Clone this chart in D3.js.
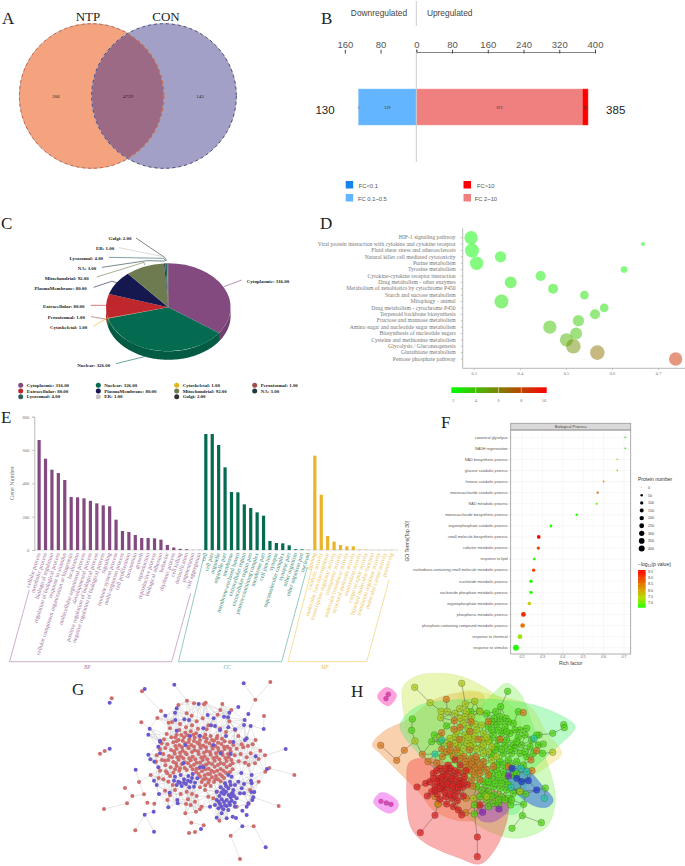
<!DOCTYPE html>
<html><head><meta charset="utf-8">
<script src="https://cdn.jsdelivr.net/npm/d3@7"></script>
<style>html,body{margin:0;padding:0;background:#fff}svg{display:block}</style>
</head><body><svg id="c" width="685" height="866"></svg>
<script>
// ---------- A
const vennSets=["NTP","CON"];
const vennCounts=[206,4729,143];
// ---------- B
const bTicks=[-160,-80,0,80,160,240,320,400];
const bDown=[{k:"FC 0.1~0.5",v:129},{k:"FC<0.1",v:1}];
const bUp=[{k:"FC 2~10",v:372},{k:"FC>10",v:13}];
const bTotals=[130,385];
// ---------- C
const locNames=["Cytoplasmic","Nuclear","Cytoskeletal","Peroxisomal","Extracellular","PlasmaMembrane","Mitochondrial","NA","Lysosomal","ER","Golgi"];
const locValues=[316,326,1,1,80,80,92,3,4,1,2];
// ---------- D
const kegNames=["HIF-1 signaling pathway","Viral protein interaction with cytokine and cytokine receptor","Fluid shear stress and atherosclerosis","Natural killer cell mediated cytotoxicity","Purine metabolism","Tyrosine metabolism","Cytokine-cytokine receptor interaction","Drug metabolism - other enzymes","Metabolism of xenobiotics by cytochrome P450","Starch and sucrose metabolism","Mitophagy - animal","Drug metabolism - cytochrome P450","Terpenoid backbone biosynthesis","Fructose and mannose metabolism","Amino sugar and nucleotide sugar metabolism","Biosynthesis of nucleotide sugars","Cysteine and methionine metabolism","Glycolysis / Gluconeogenesis","Glutathione metabolism","Pentose phosphate pathway"];
const kegRich=[.293,.666,.295,.357,.305,.625,.444,.379,.471,.539,.359,.582,.562,.526,.464,.521,.5,.515,.567,.737];
const kegCount=[50,4.5,55,36,50,12.5,28,40,28,21,55,21,28,36,50,40,50,60,60,50];
const kegP=[2.2,2.2,2.2,2.3,2.3,2.3,2.5,2.6,2.7,2.9,2.8,3,3.3,3.6,3.9,3.9,4.4,5.5,6.4,8.5];
// ---------- E
const bpNames=["cellular process","metabolic process","biological regulation","regulation of biological process","response to stimulus","cellular component organization or biogenesis","localization","multicellular organismal process","developmental process","positive regulation of biological process","negative regulation of biological process","signaling","immune system process","multi-organism process","cell proliferation","locomotion","growth","reproduction","reproductive process","biological adhesion","behavior","rhythmic process","cell killing","detoxification","pigmentation","cell aggregation"];
const bpValues=[660,548,482,462,420,318,316,310,295,280,268,262,182,114,108,90,72,72,70,62,30,15,7,5,1,1];
const ccNames=["cell","cell part","organelle","organelle part","membrane","membrane-enclosed lumen","extracellular region","extracellular region part","protein-containing complex","membrane part","cell junction","synapse","supramolecular complex","synapse part","other organism","other organism part","nucleoid"];
const ccValues=[696,696,630,496,348,346,274,252,226,206,54,42,40,28,5,4,1];
const mfNames=["binding","catalytic activity","molecular function regulator","transcription regulator activity","transporter activity","molecular transducer activity","structural molecule activity","antioxidant activity","cargo receptor activity","hijacked molecular function","translation regulator activity","molecular carrier activity","protein tag"];
const mfValues=[566,332,84,50,30,22,22,3,2,1,1,1,1];
const eTicks=[0,200,400,600,800];
// ---------- F
const fNames=["canonical glycolysis","NADH regeneration","NAD biosynthetic process","glucose catabolic process","hexose catabolic process","monosaccharide catabolic process","NAD metabolic process","monosaccharide biosynthetic process","organophosphate catabolic process","small molecule biosynthetic process","cofactor metabolic process","response to lipid","nucleobase-containing small molecule metabolic process","nucleotide metabolic process","nucleoside phosphate metabolic process","organophosphate metabolic process","phosphorus metabolic process","phosphate-containing compound metabolic process","response to chemical","response to stimulus"];
const fRich=[.706,.706,.667,.667,.6,.571,.566,.468,.342,.282,.28,.26,.257,.244,.244,.236,.207,.203,.19,.17];
const fCount=[18,18,20,20,25,35,35,45,60,130,100,70,100,100,100,120,235,220,235,400];
const fP=[7,7,7.6,7.7,8.2,8.7,7.3,7,7,9.5,9,7,9,7,7,7.8,9.2,8.6,7.5,7];
const fTicks=[.2,.3,.4,.5,.6,.7];
const fSizeLegend=[0,50,100,150,200,250,300,350,400];
const fColorLegend=[9.5,9,8.5,8,7.5,7];
// ---------- G
const gRed=[[155,145],[246,124],[120,311],[134,303],[631,96],[586,149],[612,198],[703,375],[656,468],[132,477],[201,460],[217,438],[252,433],[195,414],[237,396],[226,541],[262,458],[283,461],[322,450],[387,549],[405,546],[431,526],[394,518],[376,490],[512,557],[540,627],[581,529],[478,512],[244,217],[292,204],[303,183],[355,165],[381,152],[402,160],[432,163],[437,158],[487,162],[481,180],[473,194],[514,180],[616,365],[628,354],[615,316],[601,302],[587,270],[578,283],[564,288],[272,375],
[326,218],[336,216],[360,222],[395,197],[410,214],[428,205],[445,226],[380,190],[330,235],[358,240],[378,232],[396,226],[414,236],[440,238],[480,236],[508,214],[320,252],[350,254],[376,248],[392,244],[408,250],[436,254],[472,258],[498,246],[526,240],[312,268],[334,262],[356,270],[372,262],[388,268],[404,263],[420,270],[440,266],[462,272],[486,266],[510,276],[535,258],[305,280],[322,283],[340,277],[358,286],[376,280],[394,285],[412,278],[430,287],[448,280],[466,288],[484,282],[502,290],[520,285],[545,283],[300,298],[316,294],[333,300],[350,296],[368,302],[386,295],[404,301],[422,294],[440,303],[458,296],[476,303],[494,297],[512,305],[530,296],[550,292],[572,310],[290,316],[310,312],[327,318],[344,311],[362,319],[380,313],[398,320],[416,312],[434,320],[452,314],[470,321],[488,315],[506,322],[524,316],[542,312],[560,322],[585,340],[288,335],[306,330],[340,336],[356,329],[374,337],[392,331],[410,338],[428,330],[446,338],[464,332],[482,339],[500,333],[518,340],[536,334],[555,338],[596,327],[316,346],[332,352],[350,348],[374,354],[392,349],[410,356],[428,348],[446,356],[464,350],[482,357],[500,351],[518,358],[566,345],[300,362],[318,364],[340,368],[408,366],[426,364],[444,372],[462,366],[480,373],[498,368],[420,380],[438,386],[456,382],[474,388],[492,384],[425,396],[445,398],[462,396],[310,388],[296,384],[325,395],[338,405],[315,422],[345,420],[330,436],[362,432],[380,425],[396,432],[410,438],[384,448],[405,455],[378,462],[392,465],[425,470],[445,440],[460,445],[470,425],[435,420],[420,412],[408,485],[420,478],[566,462],[530,470],[570,420],[596,395]];
const gRedCore=[[346,262],[364,255],[382,256],[400,254],[418,258],[432,262],[452,258],[470,265],[350,274],[368,272],[386,276],[402,273],[418,282],[438,275],[456,270],[474,278],[494,274],[346,288],[366,292],[384,290],[402,290],[420,286],[438,292],[456,288],[474,294],[492,290],[510,296],[342,304],[360,308],[376,308],[396,306],[414,304],[432,308],[450,306],[468,310],[486,306],[504,312],[336,322],[352,322],[370,325],[388,325],[406,328],[424,322],[442,328],[460,324],[478,328],[496,324],[514,330],[348,340],[366,342],[384,340],[402,344],[420,338],[438,344],[456,342],[474,345],[492,342],[510,346],[360,355],[380,360],[398,358],[418,354],[436,358],[454,362],[472,362],[490,362],[510,366],[416,372],[434,376],[450,372],[468,378],[486,378],[430,388],[448,390],[466,388],[482,394],[436,406],[452,408],[325,330],[315,332],[322,370],[330,378],[345,358],[358,362]];
const gBlue=[[149,158],[254,117],[343,104],[551,100],[535,171],[565,192],[554,210],[572,228],[552,225],[611,237],[677,297],[617,592],[547,529],[423,537],[282,545],[254,494],[281,485],[227,359],[149,296],[265,254],[269,236],[316,197],[345,188],[350,175],[416,162],[508,188],[492,200],[504,202],[346,210],[373,208],[387,210],[461,205],[443,195],[465,228],[453,226],[265,314],[271,328],[283,335],[295,352],[300,275],[295,290],[300,310],[587,319],[621,357],[575,375],[573,392],[575,400],[552,402],[544,369],[583,426],[574,426],[580,442],[577,450],[552,430],[540,430],[565,460],[560,470],[547,482],[560,495],[528,504],[518,500],[500,505],[470,503],[290,405],[282,392],[297,432],[329,428],[352,450],[353,460],[325,472],[505,375],
[376,285],[370,340],[362,375],[345,380],[355,395],[372,388],[385,378],[398,372],[412,385],[392,395],[378,402],[365,408],[350,405],[402,410],[388,412],[420,352],[430,352],[482,310],[512,312],[498,258],[520,276],[555,270],[560,265],[525,238],[505,232],[480,240],[430,235],[420,258],[390,258],[350,242],[300,272],[460,285],
[470,425],[482,412],[495,400],[510,395],[525,405],[515,380],[490,420],[505,415],[520,420],[478,438],[492,432],[506,435],[522,438],[470,450],[485,448],[500,450],[515,452],[530,445],[465,465],[480,462],[495,466],[510,465],[525,470],[475,475],[490,478],[505,480],[485,490],[450,470],[545,415],[535,395],[500,468],[512,442],[518,428],[498,408],[512,405],[484,428],[498,425],[514,432],[476,455],[492,456],[508,458],[524,458],[484,470],[360,398],[372,398],[384,392],[396,384],[405,398],[342,392]];
// ---------- H
const hullYellowGreen=[[190,110],[230,78],[310,70],[380,85],[460,130],[540,200],[520,300],[420,380],[300,340],[210,260],[190,180]];
const hullOrange=[[97,285],[130,245],[200,210],[280,150],[360,128],[430,135],[400,300],[420,500],[360,512],[280,480],[240,430],[190,380],[120,310]];
const hullYellow=[[360,128],[480,140],[570,170],[620,250],[665,310],[620,350],[560,390],[480,470],[400,400],[380,250]];
const hullGreen=[[500,100],[540,130],[580,230],[640,400],[645,460],[620,530],[530,565],[440,540],[380,500],[300,420],[300,300],[400,200],[460,130]];
const hullBright=[[180,225],[230,170],[340,150],[480,150],[600,170],[700,220],[705,235],[620,320],[570,370],[530,490],[400,450],[280,350],[200,270]];
const hullRed=[[200,400],[210,335],[300,330],[400,400],[500,440],[505,490],[470,590],[420,642],[360,625],[250,575],[212,530]];
const hullBlue=[[500,355],[550,350],[610,410],[640,450],[625,470],[590,470],[540,440],[500,390]];
const hullPurple=[[410,480],[430,465],[500,460],[505,480],[460,515],[420,510]];
const hullPinkA=[[112,140],[140,112],[170,135],[145,168]];
const hullPinkB=[[100,455],[125,427],[170,450],[175,470],[150,490],[110,470]];
const hRed=[[231,411],[285,496],[241,548],[412,561],[412,620],[420,465],[262,438],[257,400],[280,370],[295,385],[310,372],[325,365],[340,378],[355,368],[270,395],[285,410],[300,400],[315,390],[330,395],[345,402],[360,392],[372,380],[275,425],[292,432],[308,418],[322,412],[338,420],[352,425],[368,412],[382,405],[300,448],[318,440],[335,445],[352,452],[370,438],[320,462],[340,470],[355,480],[365,495],[345,330],[325,345],[300,355],[360,345],[378,362],[290,362],[305,382],[320,378],[335,385],[350,388],[290,395],[308,405],[322,402],[338,408],[355,412],[280,385],[300,415],[315,428],[330,432],[345,438],[285,420],[360,402],[372,398],[332,355],[315,355],[345,362]];
const hOrange=[[122,286],[193,301],[170,331],[247,313],[264,335],[319,148],[343,212],[342,238],[393,215],[445,215],[305,248],[550,188],[415,268],[388,300],[400,345],[430,350],[460,350],[410,330],[380,350],[290,340],[307,320],[305,297],[330,285],[358,268],[590,302],[573,330],[576,362],[398,408],[378,445],[295,462],[285,440],[377,488],[395,325],[415,360],[430,335],[385,335],[405,375],[372,318],[350,300],[445,375],[420,390],[480,268],[505,350],[360,232],[390,245],[395,342],[405,352],[388,360],[420,345],[408,320],[375,335],[365,360],[395,365],[420,370],[375,380],[395,390],[440,360],[320,305],[340,320],[360,325],[330,300]];
const hOlive=[[224,112],[270,158],[365,100],[404,154],[376,162],[359,176],[303,184],[322,184],[302,203],[225,273],[638,307],[293,463],[380,185],[395,200],[420,185],[360,205],[345,260],[375,255],[395,270],[410,240],[430,250],[330,265],[355,285],[380,280],[400,285],[425,290],[445,305],[360,310],[335,310],[455,330],[470,320],[445,275],[430,310],[540,425],[400,445],[440,440],[370,220],[385,235],[405,222],[425,225],[350,245],[365,270],[385,262],[405,258],[425,270],[440,262],[345,280],[370,295],[390,288],[410,298],[430,285],[455,290],[320,280],[300,262],[375,200],[345,190]];
const hGreen=[[503,124],[217,207],[215,241],[671,224],[673,233],[638,250],[597,255],[608,310],[616,414],[551,463],[547,497],[604,518],[516,535],[403,465],[403,492],[512,465],[557,432],[538,424],[482,170],[467,185],[393,185],[418,183],[440,190],[462,205],[480,200],[498,205],[535,185],[520,220],[560,235],[445,230],[470,225],[495,230],[540,240],[320,228],[283,255],[275,275],[300,275],[460,255],[485,250],[510,250],[535,262],[555,255],[575,270],[595,285],[570,290],[545,285],[520,285],[495,285],[470,290],[490,310],[515,310],[540,310],[560,320],[480,335],[505,330],[530,335],[550,345],[555,305],[470,360],[490,365],[520,375],[530,370],[455,385],[475,390],[495,395],[440,405],[460,410],[480,415],[500,420],[520,430],[425,420],[445,425],[465,435],[485,440],[505,445],[440,450],[460,460],[475,465],[420,440],[445,470],[410,410],[430,395],[500,270],[525,295],[475,270],[580,310],[610,282],[590,255],[455,215],[480,215],[505,215],[455,240],[475,240],[500,245],[525,240],[450,270],[465,300],[485,298],[510,298],[530,275],[455,315],[470,345],[490,345],[510,345],[455,370],[475,375],[495,378],[445,395],[465,400],[485,400],[505,405],[435,435],[455,440],[475,450],[495,450],[515,450]];
const hCyan=[[543,355],[513,412],[613,445],[285,312],[560,365],[305,270],[582,265]];
const hBlue=[[516,355],[545,395],[565,392],[590,420],[530,385]];
const hPurple=[[428,487],[477,477],[506,378]];
const hMagenta=[[145,133],[138,146],[123,454],[139,459],[153,463]];

// ---------- drawing
const svg=d3.select("#c");
const SERIF="'Liberation Serif',serif", SANS="'Liberation Sans',Arial,sans-serif";
function txt(p,x,y,s,o={}){return p.append("text").attr("x",x).attr("y",y).text(s)
  .attr("font-family",o.ff||SERIF).attr("font-size",o.fs||6).attr("fill",o.fill||"#333")
  .attr("text-anchor",o.a||"start").attr("font-weight",o.w||null).attr("font-style",o.st||null);}
[["A",2,24],["B",321,24],["C",1,229],["D",320,229],["E",1,423],["F",441,428],["G",72,695],["H",351,697]]
 .forEach(d=>txt(svg,d[1],d[2],d[0],{fs:17,fill:"#222"}));

// A
(function(){
 const g=svg.append("g");
 const x=d3.scaleLinear().domain([0,1]).range([91.7,164]);
 const r=72.3,cy=96;
 const defs=svg.append("defs");
 defs.append("clipPath").attr("id","cl").append("circle").attr("cx",x(0)).attr("cy",cy).attr("r",r);
 const sets=vennSets.map((s,i)=>({s,i}));
 const fills=["#F5A27F","#A3A0C7"], strokes=["#E8501E","#3E3A8C"];
 g.selectAll("circle.f").data(sets).join("circle").attr("cx",d=>x(d.i)).attr("cy",cy).attr("r",r).attr("fill",d=>fills[d.i]);
 g.append("circle").attr("cx",x(1)).attr("cy",cy).attr("r",r).attr("fill","#9C6A85").attr("clip-path","url(#cl)");
 sets.forEach(d=>{
  g.append("circle").attr("cx",x(d.i)).attr("cy",cy).attr("r",r).attr("fill","none").attr("stroke","#aaa").attr("stroke-width",.9);
  g.append("circle").attr("cx",x(d.i)).attr("cy",cy).attr("r",r).attr("fill","none").attr("stroke",strokes[d.i]).attr("stroke-width",.9).attr("stroke-dasharray","3 3");
 });
 txt(g,88,21,vennSets[0],{fs:13,a:"middle",fill:"#222"});
 txt(g,166,21,vennSets[1],{fs:13,a:"middle",fill:"#222"});
 [56,128,200].forEach((px,i)=>txt(g,px,98,vennCounts[i],{fs:5,a:"middle",fill:"#222"}));
})();

// B
(function(){
 const g=svg.append("g");
 const x=d3.scaleLinear().domain([0,400]).range([416.3,595]);
 g.append("g").attr("transform","translate(0,52)")
  .call(d3.axisTop(x).tickValues(bTicks).tickFormat(d=>Math.abs(d)).tickSize(2.5))
  .call(a=>{a.select(".domain").attr("stroke","#777").attr("stroke-width",.9);
   a.selectAll("line").attr("stroke","#444").attr("y2",1.5).attr("y1",-2.2);
   a.selectAll("text").attr("font-family",SANS).attr("font-size",9.5).attr("fill","#555").attr("y",-4);});
 const col={"FC<0.1":"#1683E8","FC 0.1~0.5":"#63B5FF","FC 2~10":"#F08080","FC>10":"#FF0000"};
 const y0=88.7,h=36.6;
 let c=0;
 bDown.forEach(d=>{g.append("rect").attr("x",x(-c-d.v)).attr("y",y0).attr("width",x(0)-x(-d.v)).attr("height",h).attr("fill",col[d.k]);
   txt(g,x(-c-d.v/2),y0+h/2+1.5,d.v,{fs:3.8,a:"middle",fill:"#333",ff:SANS});c+=d.v;});
 c=0;
 bUp.forEach(d=>{g.append("rect").attr("x",x(c)).attr("y",y0).attr("width",x(d.v)-x(0)).attr("height",h).attr("fill",col[d.k]);
   txt(g,x(c+d.v/2),y0+h/2+1.5,d.v,{fs:3.8,a:"middle",fill:"#333",ff:SANS});c+=d.v;});
 g.append("rect").attr("x",x(-130)).attr("y",y0).attr("width",x(385)-x(-130)).attr("height",h).attr("fill","none").attr("stroke","#fff").attr("stroke-opacity",.5).attr("stroke-width",.8);
 g.append("line").attr("x1",x(0)).attr("x2",x(0)).attr("y1",1).attr("y2",26).attr("stroke","#ccc").attr("stroke-width",1);
 g.append("line").attr("x1",x(0)).attr("x2",x(0)).attr("y1",52).attr("y2",162).attr("stroke","#ccc").attr("stroke-width",1);
 txt(g,379,16,"Downregulated",{fs:8.4,a:"middle",ff:SANS,fill:"#444"});
 txt(g,449.7,16,"Upregulated",{fs:8.4,a:"middle",ff:SANS,fill:"#444"});
 txt(g,325,114,bTotals[0],{fs:11.5,a:"middle",ff:SANS,fill:"#222"});
 txt(g,615.7,114,bTotals[1],{fs:11.5,a:"middle",ff:SANS,fill:"#222"});
 [["FC<0.1",345.7,181,358.7],["FC 0.1~0.5",345.7,194,358],["FC>10",463.5,181,477],["FC 2~10",463.5,194,474.7]].forEach(d=>{
  g.append("rect").attr("x",d[1]).attr("y",d[2]).attr("width",7.5).attr("height",7.5).attr("fill",col[d[0]]);
  txt(g,d[3],d[2]+6.5,d[0],{fs:5.8,ff:SANS,fill:"#555"});
 });
})();

// C
(function(){
 const g=svg.append("g");
 const cx=168.3,cy=307.3,rx=62.3,ry=44,dep=8.5;
 const top={Cytoplasmic:"#834A80",Nuclear:"#046B50",Cytoskeletal:"#E9B418",Peroxisomal:"#A04E4E",Extracellular:"#C0272D",PlasmaMembrane:"#15174F",Mitochondrial:"#6E7A50",NA:"#1E3A3F",Lysosomal:"#2C5F66",ER:"#C7C2C2",Golgi:"#333"};
 const data=locNames.map((n,i)=>({n,v:locValues[i]}));
 const arcs=d3.pie().value(d=>d.v).sort(null)(data);
 const area=d3.area().x(a=>cx+rx*Math.sin(a)).y0(a=>cy-ry*Math.cos(a)).y1(a=>cy-ry*Math.cos(a)+dep);
 arcs.forEach(d=>{
  const a0=Math.max(d.startAngle,Math.PI/2),a1=Math.min(d.endAngle,3*Math.PI/2);
  if(a1>a0) g.append("path").attr("d",area(d3.range(a0,a1,.02).concat([a1]))).attr("fill",d3.color(top[d.data.n]).darker(.45));
 });
 const arc=d3.arc().innerRadius(0).outerRadius(100);
 const t=g.append("g").attr("transform",`translate(${cx},${cy}) scale(${rx/100},${ry/100})`);
 t.selectAll("path").data(arcs).join("path").attr("d",arc).attr("fill",d=>top[d.data.n]);
 const sx=d3.scaleLinear().domain([0,900]).range([0,300]), sy=d3.scaleLinear().domain([0,615]).range([205,410]);
 const line=d3.line().x(d=>sx(d[0])).y(d=>sy(d[1]));
 const labs=[["Golgi",360,[[408,99],[495,158],[500,168]]],["ER",315,[[357,128],[490,155],[500,168]]],["Lysosomal",259,[[327,157],[490,160],[498,168]]],["NA",261,[[306,187],[440,167],[495,168]]],["Mitochondrial",200,[[290,216],[432,172],[434,180]]],["PlasmaMembrane",182,[[281,247],[335,229],[350,233]]],["Extracellular",191,[[272,301],[320,301]]],["Peroxisomal",199,[[273,335],[322,343]]],["Cytoskeletal",206,[[279,364],[324,338]]],["Nuclear",281,[[348,476],[445,452],[470,440]]],["Cytoplasmic",804,[[725,225],[672,245]]]];
 const ly={Golgi:101,ER:131,Lysosomal:161,NA:190,Mitochondrial:220,PlasmaMembrane:250,Extracellular:304,Peroxisomal:338,Cytoskeletal:367,Nuclear:480,Cytoplasmic:230};
 labs.forEach(l=>{
  const i=locNames.indexOf(l[0]);
  g.append("path").attr("d",line(l[2])).attr("fill","none").attr("stroke",top[l[0]]).attr("stroke-width",.6);
  txt(g,sx(l[1]),sy(ly[l[0]])+1.7,`${l[0]}: ${locValues[i].toFixed(2)}`,{fs:4.9,a:"middle",w:"bold",fill:"#222"});
 });
 const lx=[20.7,98.3,176.7,254.7];
 locNames.forEach((n,i)=>{
  const X=lx[i%4],Y=385.3+Math.floor(i/4)*5.7;
  g.append("circle").attr("cx",X).attr("cy",Y).attr("r",2.5).attr("fill",top[n]);
  txt(g,X+6,Y+1.7,`${n}: ${locValues[i].toFixed(2)}`,{fs:4.9,w:"bold",fill:"#222"});
 });
})();

// D
(function(){
 const g=svg.append("g");
 const x=d3.scaleLinear().domain([.3,.7]).range([474.3,658.6]);
 const y=d3.scalePoint().domain(kegNames).range([237.7,359]);
 const r=d3.scaleSqrt().domain([0,60]).range([0,7.3]);
 const col=d3.scaleLinear().domain([2,6,10]).range(["#00ff00","#808000","#ff0000"]);
 g.append("line").attr("x1",462.7).attr("x2",685).attr("y1",368.3).attr("y2",368.3).attr("stroke","#999").attr("stroke-width",.7);
 g.append("line").attr("x1",462.7).attr("x2",462.7).attr("y1",228.3).attr("y2",368.3).attr("stroke","#999").attr("stroke-width",.7);
 kegNames.forEach((n,i)=>{
  g.append("line").attr("x1",460.7).attr("x2",462.7).attr("y1",y(n)).attr("y2",y(n)).attr("stroke","#999").attr("stroke-width",.5);
  txt(g,455.7,y(n)+1.7,n,{fs:5.7,a:"end",fill:"#777"});
 });
 x.ticks(5).forEach(t=>{
  g.append("line").attr("x1",x(t)).attr("x2",x(t)).attr("y1",368.3).attr("y2",370).attr("stroke","#999").attr("stroke-width",.5);
  txt(g,x(t),375,t.toFixed(1),{fs:4.5,a:"middle",fill:"#777"});
 });
 g.selectAll("circle").data(kegNames).join("circle").attr("cx",(d,i)=>x(kegRich[i])).attr("cy",d=>y(d)).attr("r",(d,i)=>r(kegCount[i])).attr("fill",(d,i)=>col(kegP[i])).attr("fill-opacity",.5);
 const lg=svg.append("defs").append("linearGradient").attr("id","dg");
 [[0,2],[.5,6],[1,10]].forEach(s=>lg.append("stop").attr("offset",s[0]).attr("stop-color",col(s[1])));
 const lx=d3.scaleLinear().domain([2,10]).range([453,544]);
 g.append("rect").attr("x",451.3).attr("y",387.3).attr("width",95.4).attr("height",5.7).attr("fill","url(#dg)");
 [4,6,8].forEach(v=>g.append("line").attr("x1",lx(v)).attr("x2",lx(v)).attr("y1",387.3).attr("y2",393).attr("stroke","#fff").attr("stroke-width",.5));
 [2,4,6,8,10].forEach(v=>txt(g,lx(v),402,v,{fs:4.5,a:"middle",fill:"#777"}));
})();

// E
(function(){
 const g=svg.append("g");
 const all=[...bpNames,...ccNames,...mfNames], vals=[...bpValues,...ccValues,...mfValues];
 const n1=bpNames.length,n2=ccNames.length;
 const colorOf=i=>i<n1?"#834A80":i<n1+n2?"#046B50":"#E9B32A";
 const x=d3.scaleBand().domain(all).range([34.3,396.6]).padding(.5);
 const y=d3.scaleLinear().domain([0,800]).range([550,416.7]);
 g.append("g").attr("transform","translate(34.3,0)").call(d3.axisLeft(y).tickValues(eTicks).tickSize(2))
  .call(a=>{a.select(".domain").attr("stroke","#bbb");a.selectAll("line").attr("stroke","#bbb");
   a.selectAll("text").attr("font-family",SERIF).attr("font-size",4.6).attr("fill","#777").attr("x",-5);});
 g.append("line").attr("x1",34.3).attr("x2",398).attr("y1",550).attr("y2",550).attr("stroke","#ccc").attr("stroke-width",.7);
 g.selectAll("rect").data(all).join("rect").attr("x",d=>x(d)).attr("width",x.bandwidth()).attr("y",(d,i)=>y(vals[i])).attr("height",(d,i)=>550-y(vals[i])).attr("fill",(d,i)=>colorOf(i));
 all.forEach((n,i)=>{
  const X=x(n)+x.bandwidth()/2;
  g.append("line").attr("x1",X).attr("x2",X).attr("y1",550).attr("y2",551.5).attr("stroke","#ccc").attr("stroke-width",.4);
  txt(g,0,0,n,{fs:5.8,a:"end",fill:d3.interpolateRgb(colorOf(i),"#fff")(.2)}).attr("transform",`translate(${X+1.5},553.5) rotate(-72)`);
 });
 txt(g,0,0,"Gene Number",{fs:6,a:"middle",fill:"#777"}).attr("transform","translate(14,483) rotate(-90)");
 const pts=[[[29.3,590],[9.5,661.7],[171.7,661.7],[190.7,593]],[[204,556],[178.5,661.7],[281.7,661.7],[307.3,567]],[[312.7,565],[288,661.7],[366.7,661.7],[389,580]]];
 const l=d3.line();
 ["#B68DB4","#6CB3A0","#F0D27A"].forEach((c,i)=>g.append("path").attr("d",l(pts[i])).attr("fill","none").attr("stroke",c).attr("stroke-width",.7));
 [["BP",87.3,"#A87FA6"],["CC",227,"#4FA08B"],["MF",325,"#E9C65A"]].forEach(d=>txt(g,d[1],668.5,d[0],{fs:5.4,a:"middle",st:"italic",fill:d[2]}));
})();

// F
(function(){
 const g=svg.append("g");
 const x=d3.scaleLinear().domain([.2,.7]).range([522,624]);
 const y=d3.scalePoint().domain(fNames).range([437.3,647.7]);
 const r=d3.scaleSqrt().domain([0,400]).range([.3,3]);
 const col=d3.scaleLinear().domain([7,7.6,8.4,9.5]).range(["#22ff00","#b4e000","#e09000","#ff0000"]).clamp(true);
 const L=510.7,R=630.7,T=423.3,S=430,B=654;
 fTicks.forEach(t=>g.append("line").attr("x1",x(t)).attr("x2",x(t)).attr("y1",S).attr("y2",B).attr("stroke","#efefef").attr("stroke-width",.5));
 fTicks.forEach(t=>g.append("line").attr("x1",x(t+.05)).attr("x2",x(t+.05)).attr("y1",S).attr("y2",B).attr("stroke","#f6f6f6").attr("stroke-width",.3));
 fNames.forEach((n,i)=>{
  g.append("line").attr("x1",L).attr("x2",R).attr("y1",y(n)).attr("y2",y(n)).attr("stroke","#efefef").attr("stroke-width",.5);
  g.append("line").attr("x1",L-1.2).attr("x2",L).attr("y1",y(n)).attr("y2",y(n)).attr("stroke","#777").attr("stroke-width",.4);
  txt(g,507.7,y(n)+1.3,n,{fs:3.75,a:"end",ff:SANS,fill:"#555"});
 });
 g.selectAll("circle").data(fNames).join("circle").attr("cx",(d,i)=>x(fRich[i])).attr("cy",d=>y(d)).attr("r",(d,i)=>r(fCount[i])).attr("fill",(d,i)=>col(fP[i]));
 g.append("rect").attr("x",L).attr("y",T).attr("width",R-L).attr("height",S-T).attr("fill","#d9d9d9").attr("stroke","#999").attr("stroke-width",.8);
 g.append("rect").attr("x",L).attr("y",S).attr("width",R-L).attr("height",B-S).attr("fill","none").attr("stroke","#999").attr("stroke-width",.8);
 txt(g,(L+R)/2,428.2,"Biological Process",{fs:3.9,a:"middle",ff:SANS,fill:"#444"});
 fTicks.forEach(t=>{
  g.append("line").attr("x1",x(t)).attr("x2",x(t)).attr("y1",B).attr("y2",B+1.2).attr("stroke","#777").attr("stroke-width",.4);
  txt(g,x(t),658.3,t.toFixed(1),{fs:3.6,a:"middle",ff:SANS,fill:"#666"});
 });
 txt(g,570.7,664.5,"Rich factor",{fs:4.9,a:"middle",ff:SANS,fill:"#444"});
 txt(g,0,0,"GO Terms(Top 30)",{fs:5,a:"middle",ff:SANS,fill:"#444"}).attr("transform","translate(409,541) rotate(-90)");
 txt(g,638,481,"Protein number",{fs:5,ff:SANS,fill:"#333"});
 fSizeLegend.forEach((v,i)=>{
  const Y=487.7+7.6*i;
  g.append("circle").attr("cx",641.7).attr("cy",Y).attr("r",r(v)).attr("fill","#000");
  txt(g,648,Y+1.3,v,{fs:3.7,ff:SANS,fill:"#444"});
 });
 const title=txt(g,638,566,"",{fs:5,ff:SANS,fill:"#333"});
 title.append("tspan").text("\u2212log");
 title.append("tspan").text("10").attr("font-size",3.4).attr("dy",1);
 title.append("tspan").text("(p value)").attr("dy",-1);
 const lgy=d3.scaleLinear().domain([7,9.5]).range([603,571.3]);
 const lg=svg.append("defs").append("linearGradient").attr("id","fg").attr("x1",0).attr("x2",0).attr("y1",1).attr("y2",0);
 [[0,7],[.25,7.6],[.55,8.4],[1,9.5]].forEach(s=>lg.append("stop").attr("offset",s[0]).attr("stop-color",col(s[1])));
 g.append("rect").attr("x",638).attr("y",570).attr("width",7.7).attr("height",37.7).attr("fill","url(#fg)");
 fColorLegend.forEach(v=>{
  txt(g,648,lgy(v)+1.3,v.toFixed(1),{fs:3.7,ff:SANS,fill:"#444"});
  g.append("line").attr("x1",638).attr("x2",639.5).attr("y1",lgy(v)).attr("y2",lgy(v)).attr("stroke","#fff").attr("stroke-width",.3);
  g.append("line").attr("x1",644.2).attr("x2",645.7).attr("y1",lgy(v)).attr("y2",lgy(v)).attr("stroke","#fff").attr("stroke-width",.3);
 });
})();

// network link rule: outer nodes take one spoke inward, inner nodes join their nearest inward neighbours
function linksFor(nodes,c,k,rim){
 const out=[];
 nodes.forEach(n=>{
  const d0=Math.hypot(n[0]-c[0],n[1]-c[1]);
  const near=nodes.filter(m=>m!==n&&Math.hypot(m[0]-c[0],m[1]-c[1])<d0)
   .sort((a,b)=>Math.hypot(a[0]-n[0],a[1]-n[1])-Math.hypot(b[0]-n[0],b[1]-n[1])).slice(0,d0>rim?1:k);
  near.forEach(m=>out.push([n,m]));
 });
 return out;
}
// G
(function(){
 const g=svg.append("g");
 const x=d3.scaleLinear().domain([0,810]).range([60,330]), y=d3.scaleLinear().domain([0,648]).range([650,866]);
 const solo=[[155,145],[149,158],[120,311],[134,303],[149,296]];
 const nodes=[...gRed,...gRedCore,...gBlue].filter(n=>!solo.some(s=>s[0]===n[0]&&s[1]===n[1]));
 const ln=linksFor(nodes,[430,330],6,190);
 g.selectAll("line").data(ln).join("line").attr("x1",d=>x(d[0][0])).attr("y1",d=>y(d[0][1])).attr("x2",d=>x(d[1][0])).attr("y2",d=>y(d[1][1])).attr("stroke","#cdcdcd").attr("stroke-width",.5);
 g.append("line").attr("x1",x(134)).attr("y1",y(303)).attr("x2",x(149)).attr("y2",y(296)).attr("stroke","#cdcdcd").attr("stroke-width",.5);
 const dot=(arr,c)=>g.append("g").selectAll("circle").data(arr).join("circle").attr("cx",d=>x(d[0])).attr("cy",d=>y(d[1])).attr("r",2).attr("fill",c);
 dot(gRed,"#CF6D6D"); dot(gRedCore,"#CF6D6D"); dot(gBlue,"#6A58CE");
})();

// H
(function(){
 const g=svg.append("g");
 const x=d3.scaleLinear().domain([0,1035]).range([340,685]), y=d3.scaleLinear().domain([0,648]).range([650,866]);
 const hull=d3.line().x(d=>x(d[0])).y(d=>y(d[1])).curve(d3.curveCatmullRomClosed.alpha(.5));
 [[hullOrange,"#F39A4E",.45],[hullYellow,"#EFD83E",.35],[hullYellowGreen,"#CDEB5E",.45],[hullGreen,"#7CF04E",.36],[hullBright,"#3FF06A",.36],[hullRed,"#F5504E",.45],[hullBlue,"#2C6CE0",.55],[hullPurple,"#A050C0",.5],[hullPinkA,"#FF6FC8",.65],[hullPinkB,"#F57BEF",.65]]
 .forEach(d=>g.append("path").attr("d",hull(d[0])).attr("fill",d[1]).attr("fill-opacity",d[2]).attr("stroke",d3.color(d[1]).darker(.3)).attr("stroke-opacity",.35).attr("stroke-width",.5));
 const groups=[[hGreen,"#50D810"],[hOlive,"#AFCB18"],[hOrange,"#D8781C"],[hRed,"#DE2020"],[hCyan,"#28CDA8"],[hBlue,"#1E3CD0"],[hPurple,"#8A28C0"],[hMagenta,"#E826B4"]];
 const nodes=[hGreen,hOlive,hOrange,hRed,hCyan,hBlue,hPurple].flat();
 const ln=linksFor(nodes,[420,340],3,190);
 g.append("g").selectAll("line").data(ln).join("line").attr("x1",d=>x(d[0][0])).attr("y1",d=>y(d[0][1])).attr("x2",d=>x(d[1][0])).attr("y2",d=>y(d[1][1])).attr("stroke","#444").attr("stroke-width",.4);
 groups.forEach(gr=>{
  const r=gr[0]===hMagenta?2.4:3.3;
  g.append("g").selectAll("circle").data(gr[0]).join("circle").attr("cx",d=>x(d[0])).attr("cy",d=>y(d[1])).attr("r",r).attr("fill",gr[1]).attr("fill-opacity",.72).attr("stroke","#2a2a2a").attr("stroke-opacity",.6).attr("stroke-width",.4);
  g.append("g").selectAll("line").data(gr[0]).join("line").attr("x1",d=>x(d[0])-1.4).attr("x2",d=>x(d[0])+1.4).attr("y1",d=>y(d[1])).attr("y2",d=>y(d[1])).attr("stroke","#222").attr("stroke-opacity",.5).attr("stroke-width",.3);
 });
})();
</script></body></html>
